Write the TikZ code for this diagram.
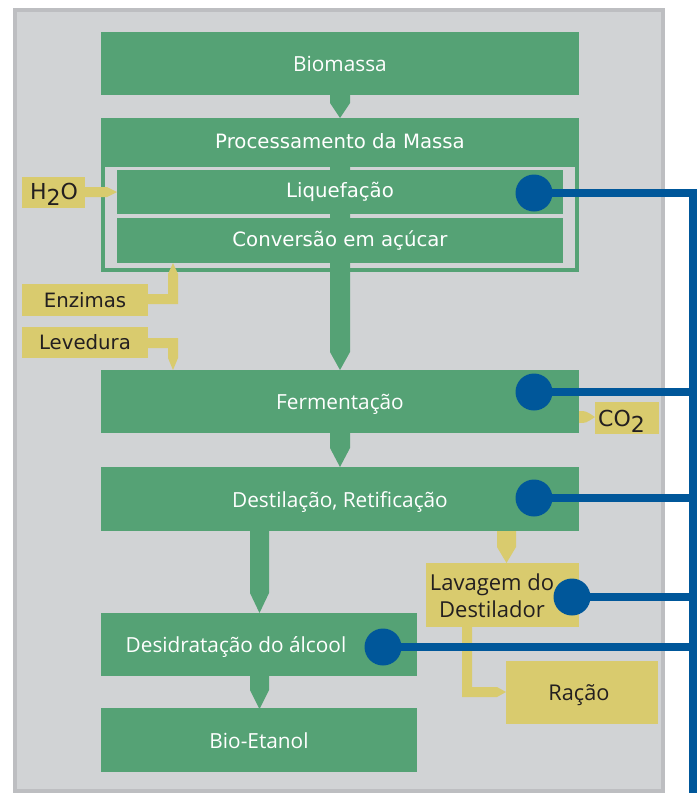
\documentclass[tikz,border=0pt]{standalone}
\usepackage{fontspec}
\newfontfamily\lucida{DejaVu Sans}
\newfontfamily\cond{Open Sans}
\definecolor{grn}{HTML}{55A275}
\definecolor{ylw}{HTML}{D9CB6E}
\definecolor{blu}{HTML}{00579A}
\definecolor{panel}{HTML}{D1D3D5}
\definecolor{panelline}{HTML}{BDBEC1}
\definecolor{ink}{HTML}{231F20}
\tikzset{
  wh/.style 2 args={minimum width=#1*0.75pt, minimum height=#2*0.75pt},
  gbox/.style={rectangle, fill=grn, draw=none, inner sep=0pt, text=white},
  ybox/.style={rectangle, fill=ylw, draw=none, inner sep=0pt, text=ink},
  fbox/.style={rectangle, fill=panel, draw=none, inner sep=0pt},
  ltxt/.style={font=\lucida\fontsize{14.8}{17}\selectfont, inner sep=0pt},
  ctxt/.style={font=\cond\fontsize{15.6}{18}\selectfont, inner sep=0pt, text height=13.6pt, text depth=1.2pt},
  dot/.style={circle, fill=blu, draw=none, minimum size=37*0.75pt, inner sep=0pt},
  bline/.style={draw=blu, line width=6pt},
  garrow/.style={fill=grn},
  yarrow/.style={fill=ylw},
}
\begin{document}
\begin{tikzpicture}[x=0.75pt,y=-0.75pt]
\useasboundingbox (0,0) rectangle (699,793);
% panel
\filldraw[fill=panel, draw=panelline, line width=3pt] (15,10) rectangle (663,791);

% green boxes
\node[gbox, wh={478}{63}, ctxt] (bio) at (340,63.5) {Biomassa};
\node[gbox, wh={478}{154}] (proc) at (340,195) {};
\node[fbox, wh={470}{101}] (frame) at (340,217.5) {};
\node[gbox, wh={446}{44}] (liq) at (340,192) {};
\node[gbox, wh={446}{45}] (conv) at (340,240.5) {};
\node[gbox, wh={478}{63}, ctxt] (ferm) at (340,401.5) {Fermentação};
\node[gbox, wh={478}{64}, ctxt] (dest) at (340,499) {Destilação, Retificação};
\node[gbox, wh={316}{63}] (desi) at (259,644.5) {};
\node[ctxt, text=white] (desit) at (236,644.5) {Desidratação do álcool};
\node[gbox, wh={316}{64}, ctxt] (etan) at (259,740) {Bio-Etanol};

% green flow arrows
\fill[garrow] (330,95) -- (350,95) -- (350,103) -- (340,118) -- (330,103) -- cycle;
\fill[garrow] (330,118) -- (350,118) -- (350,352) -- (340,370) -- (330,352) -- cycle;
\fill[garrow] (330,433) -- (350,433) -- (350,448) -- (340,467) -- (330,448) -- cycle;
\fill[garrow] (250,531) -- (269,531) -- (269,593) -- (259.5,613) -- (250,593) -- cycle;
\fill[garrow] (250,676) -- (269,676) -- (269,690) -- (259.5,709) -- (250,690) -- cycle;

% texts of the processing block
\node[ltxt, text=white] (proct) at (340,141) {Processamento da Massa};
\node[ltxt, text=white] (liqt) at (liq) {Liquefação};
\node[ltxt, text=white] (convt) at (conv) {Conversão em açúcar};

% yellow boxes
\node[ybox, wh={63}{31}] (h2o) at (53.5,192.5) {};
\node[ltxt, font=\lucida\fontsize{16.5}{18}\selectfont, text=ink] (h2ot) at (54,194) {H\raisebox{-0.5ex}{2}O};
\node[ybox, wh={126}{32}, ltxt] (enz) at (85,300) {Enzimas};
\node[ybox, wh={126}{31}, ltxt] (lev) at (85,342.5) {Levedura};
\node[ybox, wh={64}{32}] (co2) at (627,418) {};
\node[ltxt, font=\lucida\fontsize{16.5}{18}\selectfont, text=ink] (co2t) at (621.5,421) {CO\raisebox{-0.5ex}{2}};
\node[ybox, wh={153}{64}] (lav) at (502.5,595) {};
\node[ctxt, font=\cond\fontsize{16.5}{20}\selectfont, text height=, text depth=, text=ink, align=center] (lavt) at (492,595.5) {Lavagem do\\Destilador};
\node[ybox, wh={152}{63}] (rac) at (582,692.5) {};
\node[ctxt, font=\cond\fontsize{16.3}{20}\selectfont, text=ink] (ract) at (579,692.5) {Ração};

% yellow flow arrows
\fill[yarrow] (85,187) -- (107,187) -- (117,192) -- (107,197) -- (85,197) -- cycle;
\fill[yarrow] (148,294) -- (168,294) -- (168,274) -- (173,263) -- (178,274) -- (178,304) -- (148,304) -- cycle;
\fill[yarrow] (148,338) -- (178,338) -- (178,358) -- (173,370) -- (168,358) -- (168,348) -- (148,348) -- cycle;
\fill[yarrow] (579,411) .. controls (586,411) .. (595,417) .. controls (586,423) .. (579,423) -- cycle;
\fill[yarrow] (497,531) -- (516,531) -- (516,547) -- (506.5,563) -- (497,547) -- cycle;
\fill[yarrow] (462,627) -- (472,627) -- (472,687) -- (497,687) -- (506,692) -- (497,697) -- (462,697) -- cycle;

% blue dots and bus
\node[dot] (d1) at (534,193) {};
\node[dot] (d2) at (534,392) {};
\node[dot] (d3) at (534,498) {};
\node[dot] (d4) at (572,597) {};
\node[dot] (d5) at (383,647) {};
\coordinate (bustop) at (693,193);
\coordinate (busend) at (693,793);
\draw[bline] (d1.center) -- (bustop) -- (busend);
\draw[bline] (d2.center) -- (d2.center -| bustop);
\draw[bline] (d3.center) -- (d3.center -| bustop);
\draw[bline] (d4.center) -- (d4.center -| bustop);
\draw[bline] (d5.center) -- (d5.center -| bustop);
\end{tikzpicture}
\end{document}
